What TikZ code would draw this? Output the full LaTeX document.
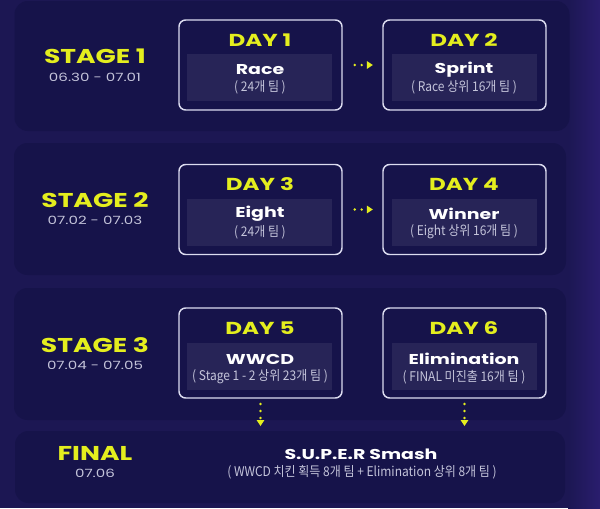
\documentclass[tikz,border=0pt]{standalone}
\usepackage{fontspec}
\usetikzlibrary{arrows.meta}
\newfontfamily\headfont{Poppins}[FakeStretch=1.33]
\newfontfamily\krfont{Noto Sans CJK KR}[FakeStretch=0.9]
\definecolor{bgc}{HTML}{1C1753}
\definecolor{panelc}{HTML}{16134A}
\definecolor{innerc}{HTML}{272457}
\definecolor{yel}{HTML}{E4EE1E}
\definecolor{edgec}{HTML}{DCDCF0}
\definecolor{subc}{HTML}{C4C4DA}
\definecolor{purp}{HTML}{2A1D6E}
\tikzset{
  panel/.style={fill=panelc, rounded corners=10pt, inner sep=0pt},
  daybox/.style={draw=edgec, line width=1.1pt, fill=panelc, rounded corners=5pt,
    minimum width=163*0.75pt, minimum height=90*0.75pt, inner sep=0pt},
  innerbox/.style={fill=innerc, minimum width=145*0.75pt, minimum height=47*0.75pt, inner sep=0pt},
  stagelbl/.style={text=yel, font=\headfont\bfseries\fontsize{15}{15}\selectfont, inner sep=0pt},
  datelbl/.style={text=subc, font=\headfont\fontsize{8.5}{9}\selectfont, inner sep=0pt},
  daylbl/.style={text=yel, font=\headfont\bfseries\fontsize{13}{13}\selectfont, inner sep=0pt},
  gamelbl/.style={text=white, font=\headfont\bfseries\fontsize{10.7}{11}\selectfont, inner sep=0pt},
  sublbl/.style={text=subc, font=\krfont\fontsize{10}{10}\selectfont, inner sep=0pt},
  flow/.style={draw=yel, line width=2pt, line cap=round, dash pattern=on 0pt off 5.2pt,
    -{Triangle[length=4.5pt,width=5.5pt,line cap=butt]}},
}
\begin{document}
\begin{tikzpicture}[x=0.75pt,y=-0.75pt]
\fill[bgc] (0,0) rectangle (600,508);
\shade[left color=bgc, right color=purp] (568,0) rectangle (600,508);
\useasboundingbox (0,0) rectangle (600,508);
% panels
\node[panel, minimum width=555*0.75pt, minimum height=130*0.75pt] (p1) at (292,66) {};
\node[panel, minimum width=552*0.75pt, minimum height=132*0.75pt] (p2) at (290,209) {};
\node[panel, minimum width=552*0.75pt, minimum height=132*0.75pt] (p3) at (290,354) {};
\node[panel, minimum width=550*0.75pt, minimum height=72*0.75pt] (fin) at (290,467) {};
% stage 1
\node[stagelbl] (s1) at (95,56) {STAGE 1};
\node[datelbl] (s1d) at (95,77) {06.30 - 07.01};
\node[daybox] (d1) at (260.5,65) {};
\node[daybox] (d2) at (464.5,65) {};
\node[innerbox] (r1) at (259.5,77.5) {};
\node[innerbox] (r2) at (464.5,77.5) {};
\node[daylbl] (t1) at (260,40) {DAY 1};
\node[daylbl] (t2) at (464,40) {DAY 2};
\node[gamelbl] (g1) at (260,70) {Race};
\node[gamelbl] (g2) at (464,70) {Sprint};
\node[sublbl] (u1) at (260,87) {( 24개 팀 )};
\node[sublbl] (u2) at (464,87) {( Race 상위 16개 팀 )};
\draw[flow, shorten <=9pt, shorten >=7pt] (d1.east) -- (d2.west);
% stage 2
\node[stagelbl] (s2) at (95,200) {STAGE 2};
\node[datelbl] (s2d) at (95,220) {07.02 - 07.03};
\node[daybox] (d3) at (260.5,209.5) {};
\node[daybox] (d4) at (464.5,209.5) {};
\node[innerbox] (r3) at (259.5,222) {};
\node[innerbox] (r4) at (464.5,222) {};
\node[daylbl] (t3) at (260,184) {DAY 3};
\node[daylbl] (t4) at (464,184) {DAY 4};
\node[gamelbl] (g3) at (260,214) {Eight};
\node[gamelbl] (g4) at (464,214) {Winner};
\node[sublbl] (u3) at (260,232) {( 24개 팀 )};
\node[sublbl] (u4) at (464,232) {( Eight 상위 16개 팀 )};
\draw[flow, shorten <=9pt, shorten >=7pt] (d3.east) -- (d4.west);
% stage 3
\node[stagelbl] (s3) at (95,345) {STAGE 3};
\node[datelbl] (s3d) at (95,365) {07.04 - 07.05};
\node[daybox] (d5) at (260.5,353) {};
\node[daybox] (d6) at (464.5,353) {};
\node[innerbox] (r5) at (259.5,366.5) {};
\node[innerbox] (r6) at (464.5,366.5) {};
\node[daylbl] (t5) at (260,328) {DAY 5};
\node[daylbl] (t6) at (464,328) {DAY 6};
\node[gamelbl] (g5) at (260,359) {WWCD};
\node[gamelbl] (g6) at (464,359) {Elimination};
\node[sublbl] (u5) at (260,377) {( Stage 1 - 2 상위 23개 팀 )};
\node[sublbl] (u6) at (464,377) {( FINAL 미진출 16개 팀 )};
\draw[flow, shorten <=4pt, shorten >=3.5pt] (d5.south) -- (d5.south |- fin.north);
\draw[flow, shorten <=4pt, shorten >=3.5pt] (d6.south) -- (d6.south |- fin.north);
% final
\node[stagelbl] (sf) at (95,453) {FINAL};
\node[datelbl] (sfd) at (95,473) {07.06};
\node[gamelbl] (gf) at (361,454) {S.U.P.E.R Smash};
\node[sublbl] (uf) at (362,472.5) {( WWCD 치킨 획득 8개 팀 + Elimination 상위 8개 팀 )};
\end{tikzpicture}
\end{document}
